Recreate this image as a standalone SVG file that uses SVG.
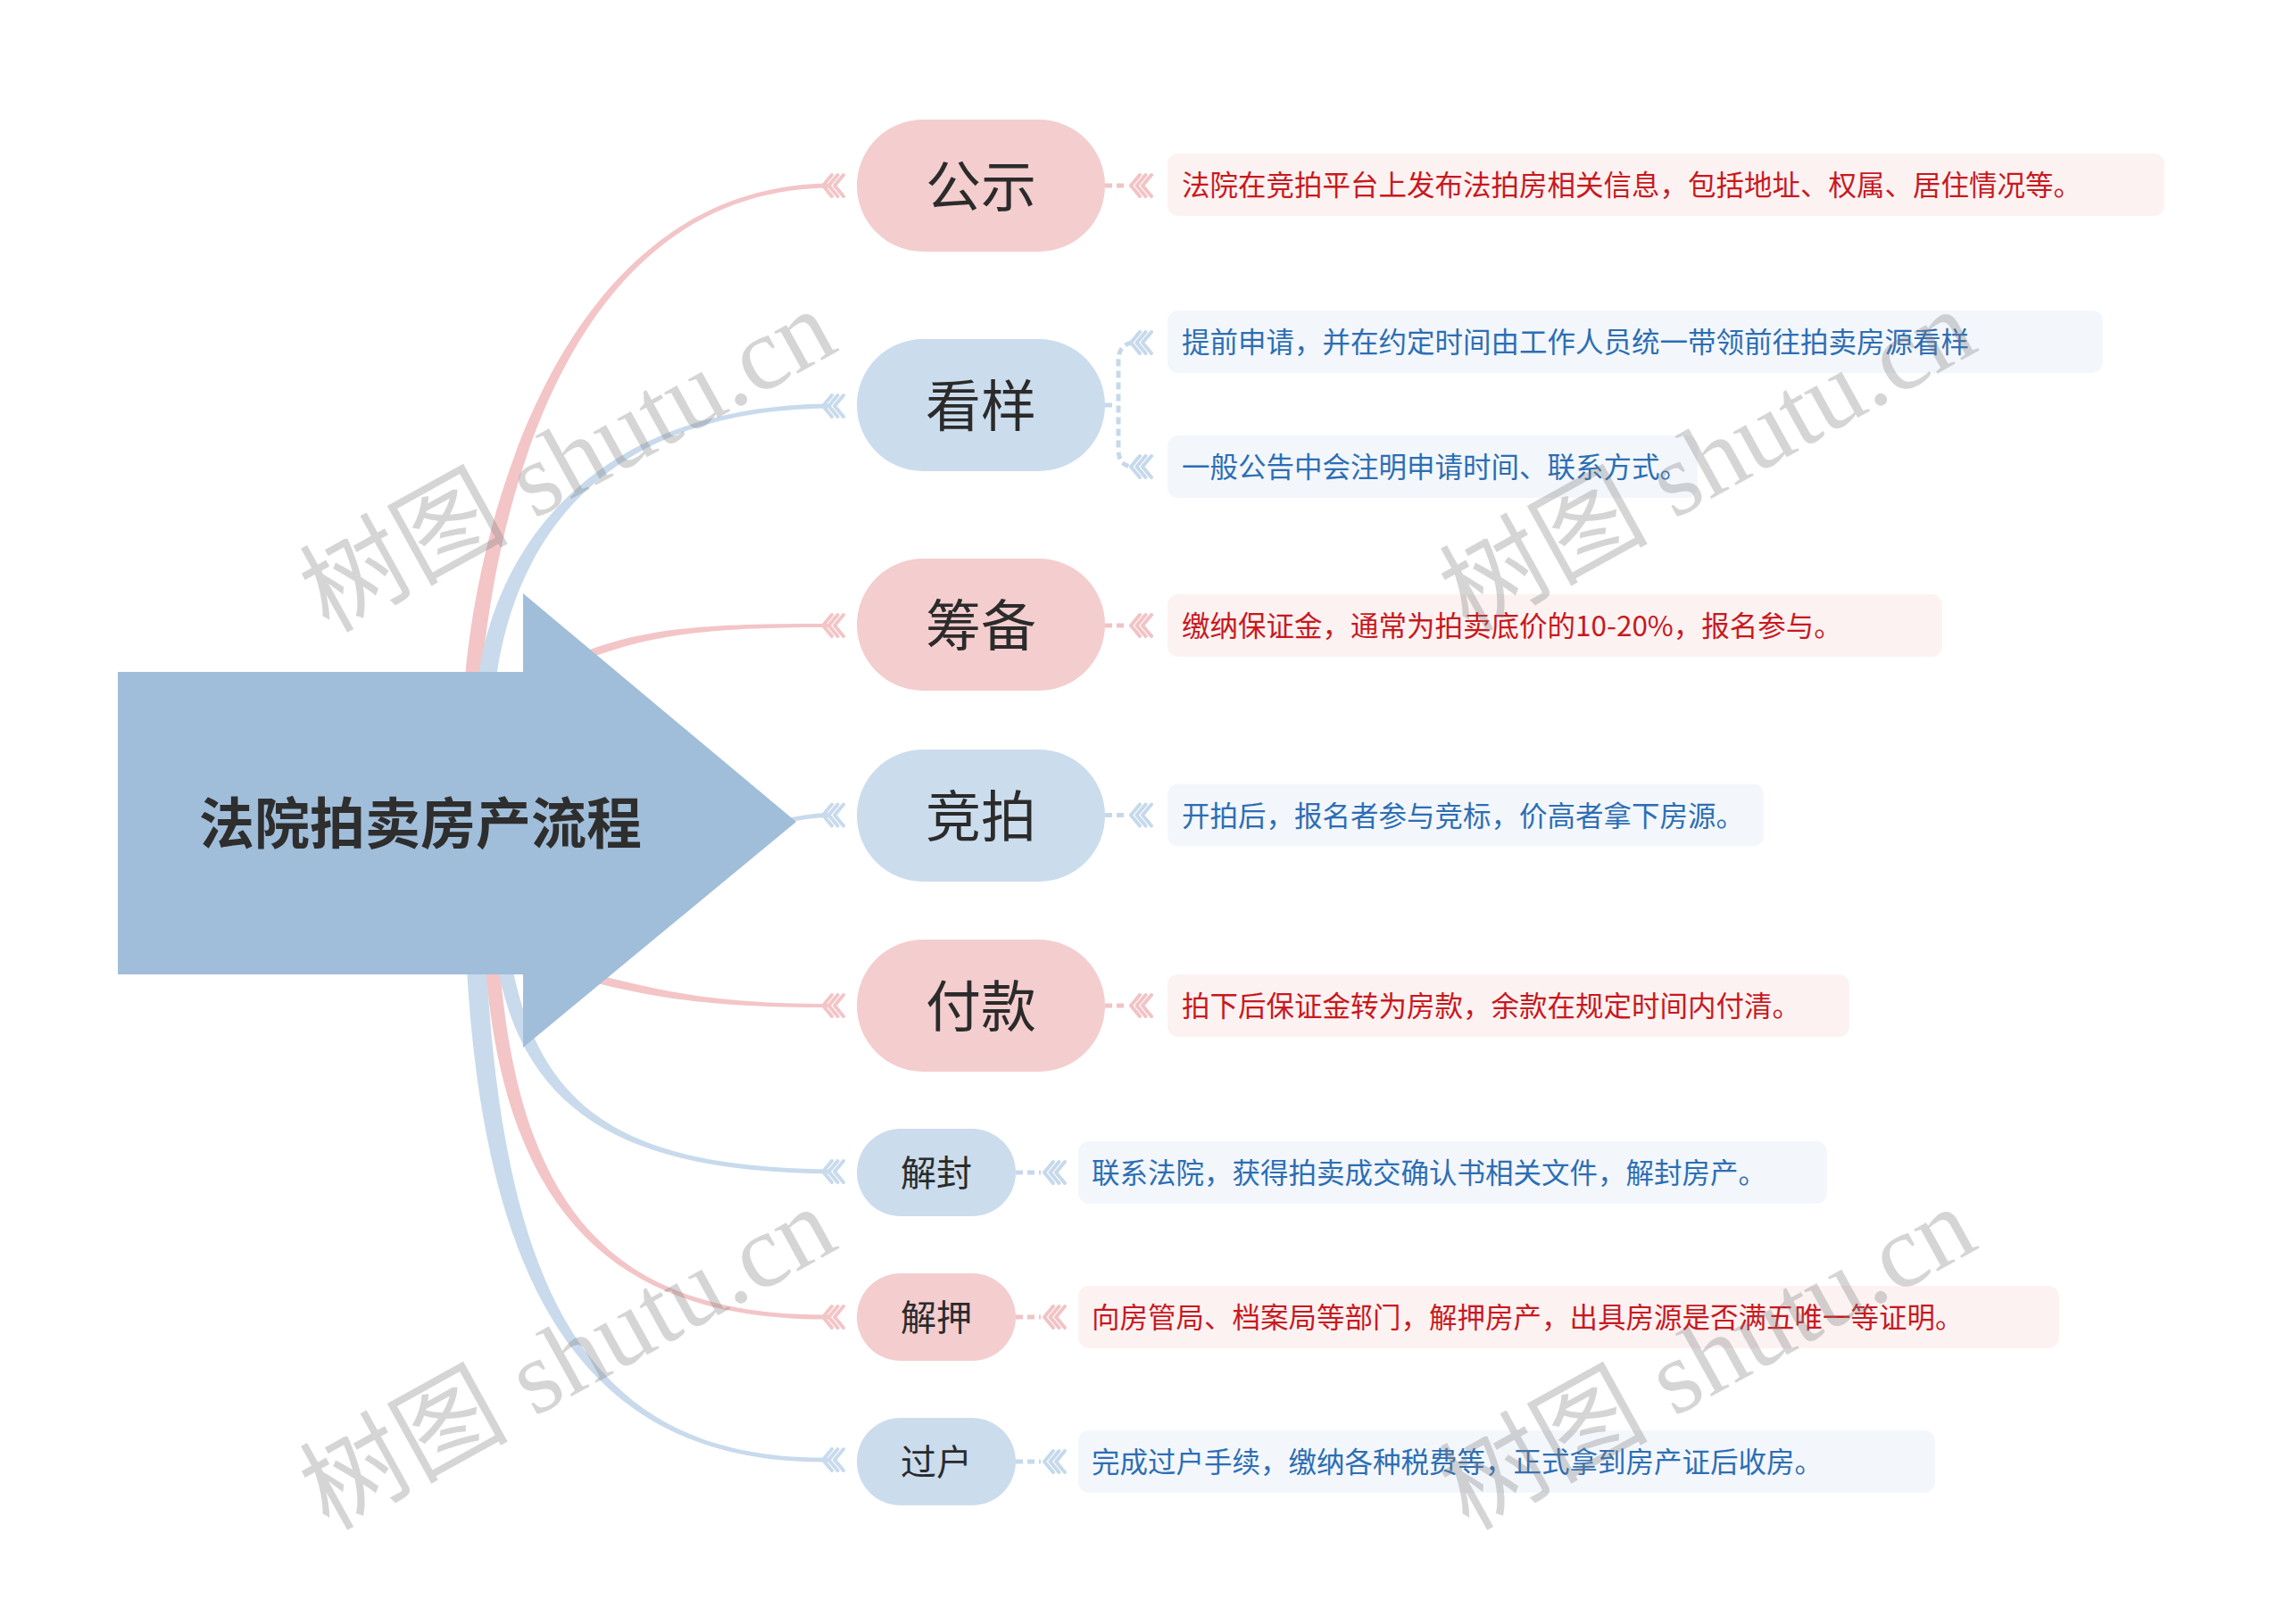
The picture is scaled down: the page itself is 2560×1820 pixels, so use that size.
<svg xmlns="http://www.w3.org/2000/svg" width="2560" height="1820" viewBox="0 0 2560 1820">
<style>
.pill-p{fill:#F4CDCE}
.pill-b{fill:#CBDCED}
.box-p{fill:#FDF2F2}
.box-b{fill:#F3F7FC}
.t-node{font-family:"Noto Sans CJK SC","Noto Sans",sans-serif;font-size:62px;fill:#2b2b2b;text-anchor:middle}
.t-small{font-size:40px}
.t-title{font-family:"Noto Sans CJK SC","Noto Sans",sans-serif;font-size:62px;font-weight:700;fill:#2e2e2e;text-anchor:middle}
.t-desc{font-family:"Noto Sans CJK SC","Noto Sans",sans-serif;font-size:31.5px}
.t-red{fill:#C8191E}
.t-blue{fill:#2D6EB4}
.c-p{fill:#F3C5C7}
.c-b{fill:#C8DAEC}
.l-p{fill:none;stroke:#F3C5C7;stroke-width:5}
.l-b{fill:none;stroke:#C8DAEC;stroke-width:5}
.d-p{fill:none;stroke:#F2C3C5;stroke-width:5;stroke-dasharray:8 5}
.d-b{fill:none;stroke:#C6D9EB;stroke-width:5;stroke-dasharray:8 5}
.ch{fill:none;stroke-width:4;stroke-linecap:round}
.wm{font-family:"Liberation Serif","Noto Sans CJK SC",serif;font-size:117px;fill:#808080;fill-opacity:0.33}
</style>
<defs>
<g id="chev"><path d="M0,0 l10,-12 M0,0 l10,12 M6.5,0 l10,-12 M6.5,0 l10,12 M13,0 l10,-12 M13,0 l10,12"/></g>
</defs>
<rect width="2560" height="1820" fill="#ffffff"/>

<g id="connectors">
  <path class="c-p" d="M521,759 C539,559 640,207.5 930,205.5 L930,210.5 C640,212.5 557,561 539,761 Z"/>
  <path class="c-b" d="M536,759 C555,619 660,454.5 930,452.5 L930,457.5 C660,459.5 575,621 556,761 Z"/>
  <path class="c-p" d="M653,731 C728,702 800,699 930,699 L930,703 C800,703 732,710 657,739 Z"/>
  <path class="l-b" d="M880,920 Q905,914 930,913.5"/>
  <path class="c-p" d="M661,1090.6 C741,1110.6 800,1125 930,1125 L930,1129 C800,1129 739,1119.4 659,1099.4 Z"/>
  <path class="c-b" d="M545,1084.4 C566,1449.4 660,1637.5 930,1633.5 L930,1638.5 C660,1642.5 544,1450.6 523,1085.6 Z"/>
  <path class="c-p" d="M560,1084.3 C583,1359.3 690,1475.5 930,1473.5 L930,1478.5 C690,1480.5 567,1360.7 544,1085.7 Z"/>
  <path class="c-b" d="M574,1083.5 C608,1258.5 720,1307.5 930,1310.5 L930,1315.5 C720,1312.5 592,1261.5 558,1086.5 Z"/>
  <use href="#chev" x="922" y="208" class="ch" stroke="#F3C5C7"/>
  <use href="#chev" x="922" y="455" class="ch" stroke="#C8DAEC"/>
  <use href="#chev" x="922" y="701" class="ch" stroke="#F3C5C7"/>
  <use href="#chev" x="922" y="913.5" class="ch" stroke="#C8DAEC"/>
  <use href="#chev" x="922" y="1127" class="ch" stroke="#F3C5C7"/>
  <use href="#chev" x="922" y="1313" class="ch" stroke="#C8DAEC"/>
  <use href="#chev" x="922" y="1476" class="ch" stroke="#F3C5C7"/>
  <use href="#chev" x="922" y="1636" class="ch" stroke="#C8DAEC"/>

  <path class="d-p" d="M1238,208 H1264"/>
  <use href="#chev" x="1267" y="208" class="ch" stroke="#F2C3C5"/>
  <path class="d-b" d="M1238,454 H1250"/>
  <path class="d-b" d="M1268,384 C1258,386 1253,392 1253,405 V503 C1253,516 1258,522 1268,523"/>
  <use href="#chev" x="1267" y="384" class="ch" stroke="#C6D9EB"/>
  <use href="#chev" x="1267" y="523" class="ch" stroke="#C6D9EB"/>
  <path class="d-p" d="M1238,701 H1264"/>
  <use href="#chev" x="1267" y="701" class="ch" stroke="#F2C3C5"/>
  <path class="d-b" d="M1238,913.5 H1264"/>
  <use href="#chev" x="1267" y="913.5" class="ch" stroke="#C6D9EB"/>
  <path class="d-p" d="M1238,1127 H1264"/>
  <use href="#chev" x="1267" y="1127" class="ch" stroke="#F2C3C5"/>
  <path class="d-b" d="M1138,1314 H1166"/>
  <use href="#chev" x="1170" y="1314" class="ch" stroke="#C6D9EB"/>
  <path class="d-p" d="M1138,1476 H1166"/>
  <use href="#chev" x="1170" y="1476" class="ch" stroke="#F2C3C5"/>
  <path class="d-b" d="M1138,1638 H1166"/>
  <use href="#chev" x="1170" y="1638" class="ch" stroke="#C6D9EB"/>
</g>

<g id="root">
  <polygon points="132,753 586,753 586,665 892,921 586,1174 586,1092 132,1092" fill="#A0BEDA"/>
  <text class="t-title" x="471" y="946">法院拍卖房产流程</text>
</g>

<g id="n-gongshi">
  <rect class="pill-p" x="960" y="134" width="278" height="148" rx="74" ry="74"/>
  <text class="t-node" x="1099" y="231.5">公示</text>
</g>
<g id="d-gongshi">
  <rect class="box-p" x="1308" y="172" width="1117" height="70" rx="12"/>
  <text class="t-desc t-red" x="1324" y="219">法院在竞拍平台上发布法拍房相关信息，包括地址、权属、居住情况等。</text>
</g>

<g id="n-kanyang">
  <rect class="pill-b" x="960" y="380" width="278" height="148" rx="74" ry="74"/>
  <text class="t-node" x="1099" y="477.5">看样</text>
</g>
<g id="d-kanyang-1">
  <rect class="box-b" x="1308" y="348" width="1048" height="70" rx="12"/>
  <text class="t-desc t-blue" x="1324" y="395">提前申请，并在约定时间由工作人员统一带领前往拍卖房源看样</text>
</g>
<g id="d-kanyang-2">
  <rect class="box-b" x="1308" y="488" width="594" height="70" rx="12"/>
  <text class="t-desc t-blue" x="1324" y="535">一般公告中会注明申请时间、联系方式。</text>
</g>

<g id="n-choubei">
  <rect class="pill-p" x="960" y="626" width="278" height="148" rx="74" ry="74"/>
  <text class="t-node" x="1099" y="723.5">筹备</text>
</g>
<g id="d-choubei">
  <rect class="box-p" x="1308" y="666" width="868" height="70" rx="12"/>
  <text class="t-desc t-red" x="1324" y="713">缴纳保证金，通常为拍卖底价的10-20%，报名参与。</text>
</g>

<g id="n-jingpai">
  <rect class="pill-b" x="960" y="840" width="278" height="148" rx="74" ry="74"/>
  <text class="t-node" x="1099" y="937.5">竞拍</text>
</g>
<g id="d-jingpai">
  <rect class="box-b" x="1308" y="878.5" width="668" height="70" rx="12"/>
  <text class="t-desc t-blue" x="1324" y="925.5">开拍后，报名者参与竞标，价高者拿下房源。</text>
</g>

<g id="n-fukuan">
  <rect class="pill-p" x="960" y="1053" width="278" height="148" rx="74" ry="74"/>
  <text class="t-node" x="1099" y="1150.5">付款</text>
</g>
<g id="d-fukuan">
  <rect class="box-p" x="1308" y="1092" width="764" height="70" rx="12"/>
  <text class="t-desc t-red" x="1324" y="1139">拍下后保证金转为房款，余款在规定时间内付清。</text>
</g>

<g id="n-jiefeng">
  <rect class="pill-b" x="960" y="1265" width="178" height="98" rx="49" ry="49"/>
  <text class="t-node t-small" x="1049" y="1329">解封</text>
</g>
<g id="d-jiefeng">
  <rect class="box-b" x="1208" y="1279" width="839" height="70" rx="12"/>
  <text class="t-desc t-blue" x="1223" y="1326">联系法院，获得拍卖成交确认书相关文件，解封房产。</text>
</g>

<g id="n-jieya">
  <rect class="pill-p" x="960" y="1427" width="178" height="98" rx="49" ry="49"/>
  <text class="t-node t-small" x="1049" y="1491">解押</text>
</g>
<g id="d-jieya">
  <rect class="box-p" x="1208" y="1441" width="1099" height="70" rx="12"/>
  <text class="t-desc t-red" x="1223" y="1488">向房管局、档案局等部门，解押房产，出具房源是否满五唯一等证明。</text>
</g>

<g id="n-guohu">
  <rect class="pill-b" x="960" y="1589" width="178" height="98" rx="49" ry="49"/>
  <text class="t-node t-small" x="1049" y="1653">过户</text>
</g>
<g id="d-guohu">
  <rect class="box-b" x="1208" y="1603" width="960" height="70" rx="12"/>
  <text class="t-desc t-blue" x="1223" y="1650">完成过户手续，缴纳各种税费等，正式拿到房产证后收房。</text>
</g>

<g id="watermarks">
  <text class="wm" transform="translate(368,710) rotate(-29)">树图 shutu.cn</text>
  <text class="wm" transform="translate(1645,710) rotate(-29)">树图 shutu.cn</text>
  <text class="wm" transform="translate(368,1716) rotate(-29)">树图 shutu.cn</text>
  <text class="wm" transform="translate(1645,1716) rotate(-29)">树图 shutu.cn</text>
</g>
</svg>
